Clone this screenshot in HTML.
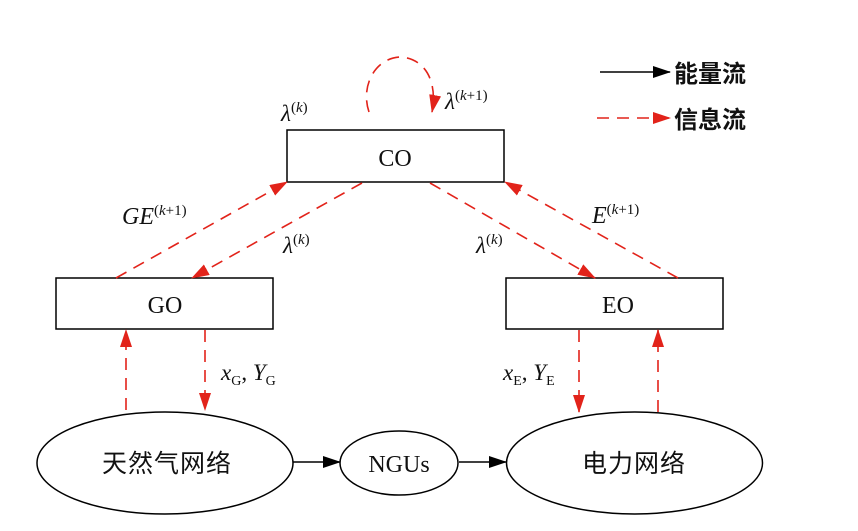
<!DOCTYPE html>
<html><head><meta charset="utf-8"><style>
html,body{margin:0;padding:0;background:#fff;width:858px;height:531px;overflow:hidden}
svg{display:block}
text{font-family:"Liberation Serif","Noto Serif CJK SC",serif;fill:#111}
.cjk{font-family:"Liberation Serif","Noto Sans CJK SC",sans-serif}
.d{stroke:#e2231a;stroke-width:1.6;stroke-dasharray:12,8;fill:none}
</style></head><body>
<svg width="858" height="531" viewBox="0 0 858 531" xmlns="http://www.w3.org/2000/svg">
<defs>
<marker id="rb" markerWidth="18" markerHeight="12" refX="17" refY="6" orient="auto" markerUnits="userSpaceOnUse"><path d="M0,0 L18,6 L0,12 Z" fill="#e2231a"/></marker>
<marker id="kb" markerWidth="18" markerHeight="12" refX="17" refY="6" orient="auto" markerUnits="userSpaceOnUse"><path d="M0,0 L18,6 L0,12 Z" fill="#000"/></marker>
</defs>
<rect x="287" y="130" width="217" height="52" fill="none" stroke="#000" stroke-width="1.5"/>
<text x="395" y="166" font-size="24" text-anchor="middle">CO</text>
<rect x="56" y="278" width="217" height="51" fill="none" stroke="#000" stroke-width="1.5"/>
<text x="165" y="313" font-size="24" text-anchor="middle">GO</text>
<rect x="506" y="278" width="217" height="51" fill="none" stroke="#000" stroke-width="1.5"/>
<text x="618" y="313" font-size="24" text-anchor="middle">EO</text>
<ellipse cx="165" cy="463" rx="128" ry="51" fill="none" stroke="#000" stroke-width="1.5"/>
<text class="cjk" x="167" y="472" font-size="25" text-anchor="middle" letter-spacing="1">天然气网络</text>
<ellipse cx="399" cy="463" rx="59" ry="32" fill="none" stroke="#000" stroke-width="1.5"/>
<text x="399" y="472" font-size="24" text-anchor="middle">NGUs</text>
<ellipse cx="634.5" cy="463" rx="128" ry="51" fill="none" stroke="#000" stroke-width="1.5"/>
<text class="cjk" x="634" y="472" font-size="25" text-anchor="middle" letter-spacing="1">电力网络</text>
<line x1="293" y1="462" x2="340" y2="462" stroke="#000" stroke-width="1.5" marker-end="url(#kb)"/>
<line x1="459" y1="462" x2="506" y2="462" stroke="#000" stroke-width="1.5" marker-end="url(#kb)"/>
<path class="d" d="M369,112 C360,85 376,58 400,57 C424,58 438,80 432,112" marker-end="url(#rb)"/>
<text x="281" y="121" font-size="23" font-style="italic">λ<tspan font-size="15" dy="-9" font-style="normal">(</tspan><tspan font-size="15">k</tspan><tspan font-size="15" font-style="normal">)</tspan></text>
<text x="445" y="109" font-size="23" font-style="italic">λ<tspan font-size="15" dy="-9" font-style="normal">(</tspan><tspan font-size="15">k</tspan><tspan font-size="15" font-style="normal">+1)</tspan></text>
<line class="d" x1="116" y1="278" x2="287" y2="182" marker-end="url(#rb)"/>
<line class="d" x1="362" y1="183" x2="192" y2="278" marker-end="url(#rb)"/>
<line class="d" x1="430" y1="183" x2="595" y2="278" marker-end="url(#rb)"/>
<line class="d" x1="678" y1="278" x2="505" y2="182" marker-end="url(#rb)"/>
<text x="122" y="224" font-size="24" font-style="italic">GE<tspan font-size="15" dy="-9" font-style="normal">(</tspan><tspan font-size="15">k</tspan><tspan font-size="15" font-style="normal">+1)</tspan></text>
<text x="283" y="253" font-size="23" font-style="italic">λ<tspan font-size="15" dy="-9" font-style="normal">(</tspan><tspan font-size="15">k</tspan><tspan font-size="15" font-style="normal">)</tspan></text>
<text x="476" y="253" font-size="23" font-style="italic">λ<tspan font-size="15" dy="-9" font-style="normal">(</tspan><tspan font-size="15">k</tspan><tspan font-size="15" font-style="normal">)</tspan></text>
<text x="592" y="223" font-size="24" font-style="italic">E<tspan font-size="15" dy="-9" font-style="normal">(</tspan><tspan font-size="15">k</tspan><tspan font-size="15" font-style="normal">+1)</tspan></text>
<line class="d" x1="126" y1="410" x2="126" y2="330" marker-end="url(#rb)"/>
<line class="d" x1="205" y1="330" x2="205" y2="410" marker-end="url(#rb)"/>
<line class="d" x1="579" y1="330" x2="579" y2="412" marker-end="url(#rb)"/>
<line class="d" x1="658" y1="412" x2="658" y2="330" marker-end="url(#rb)"/>
<text x="221" y="380" font-size="23" font-style="italic">x<tspan font-size="14" dy="5" font-style="normal">G</tspan><tspan dy="-5" font-style="normal">, </tspan>Y<tspan font-size="14" dy="5" font-style="normal">G</tspan></text>
<text x="503" y="380" font-size="23" font-style="italic">x<tspan font-size="14" dy="5" font-style="normal">E</tspan><tspan dy="-5" font-style="normal">, </tspan>Y<tspan font-size="14" dy="5" font-style="normal">E</tspan></text>
<line x1="600" y1="72" x2="670" y2="72" stroke="#000" stroke-width="1.5" marker-end="url(#kb)"/>
<text class="cjk" x="674" y="82" font-size="24" font-weight="bold">能量流</text>
<line class="d" x1="597" y1="118" x2="670" y2="118" marker-end="url(#rb)"/>
<text class="cjk" x="674" y="128" font-size="24" font-weight="bold">信息流</text>
</svg>
</body></html>
